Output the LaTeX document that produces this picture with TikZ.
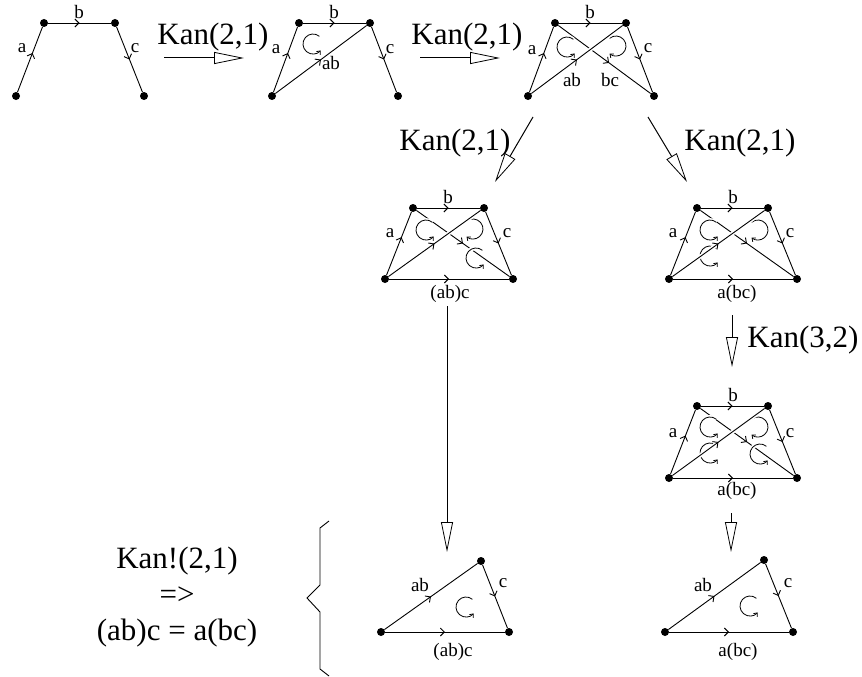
\documentclass[tikz,border=0pt]{standalone}
\usepackage{fontspec}
\setmainfont{Liberation Serif}
\usetikzlibrary{arrows.meta, decorations.markings}

\begin{document}
\begin{tikzpicture}[
    x=1pt, y=-1pt,
    >={Straight Barb[length=4pt,width=8pt]},
    dot/.style={
        circle,
        fill,
        inner sep=0pt,
        minimum size=8pt
    },
    lbl/.style={font=\fontsize{19}{19}\selectfont, inner sep=0pt},
    kan/.style={font=\fontsize{31}{31}\selectfont, inner sep=0pt},
    seg/.style={
        line width=0.9pt,
        postaction={decorate},
        decoration={markings, mark=at position #1 with {\arrow{>}}}
    },
    seg/.default=0.5,
    halo/.style={draw=white, line width=4pt, shorten <=6pt, shorten >=6pt},
    kanarrow/.style={
        line width=1pt,
        -{Triangle[open, length=30pt, width=12pt, line width=0.8pt]}
    },
    twocell/.style={
        line width=0.8pt,
        -{Straight Barb[length=3pt,width=5pt]},
        preaction={draw=white, line width=4pt, -}
    }
]

    \path[fill=white] (0,0) rectangle (862,677);

    % Vertices
    \foreach \n/\x/\y in {A1/16/96, B1/44/23, C1/115/23, D1/144/96,
            A2/272/96, B2/299/23, C2/370/23, D2/398/96,
            A3/528/96, B3/555/23, C3/626/23, D3/654/96,
            A4/385/279, B4/413/208, C4/484/208, D4/513/279,
            A5/669/279, B5/697/208, C5/768/208, D5/797/279,
            A6/669/478, B6/697/406, C6/768/406, D6/797/478,
            A7/381/632, C7/481/561, D7/509/632,
            A8/665/632, C8/764/560, D8/793/632}
        \node[dot] (\n) at (\x,\y) {};

    % Edges a, b, c
    \foreach \i in {1,...,6} {
        \draw[seg=0.6] (A\i) -- (B\i);
        \draw[seg] (B\i) -- (C\i);
        \draw[seg] (C\i) -- (D\i);
    }

    % Composites
    \foreach \i in {4,5,6}
        \draw[seg] (A\i) -- (D\i);
    \draw[seg=0.55] (B3) -- (D3);
    \foreach \i in {4,5,6}
        \draw[seg] (B\i) -- (D\i);

    % 2-cells
    \foreach \x/\y in {313/44, 567/47, 426/230, 476/258, 710/230, 710/256,
            710/427, 710/453, 760/454, 466/607, 750/606}
        \draw[twocell] (\x,\y) ++(-50:10) arc[start angle=-50, end angle=-320, radius=10];
    \foreach \x/\y in {616/46, 473/229, 758/230, 758/427}
        \draw[twocell] (\x,\y) ++(-130:10) arc[start angle=-130, end angle=130, radius=10];

    % ab on top
    \foreach \i in {2,...,6} {
        \draw[halo] (A\i) -- (C\i);
        \draw[seg] (A\i) -- (C\i);
    }

    % Triangles
    \foreach \i in {7,8} {
        \draw[seg] (A\i) -- (C\i);
        \draw[seg] (C\i) -- (D\i);
        \draw[seg] (A\i) -- (D\i);
    }

    % Labels
    \node[lbl] (la1) at (22,48) {a};
    \node[lbl] (lb1) at (79,12) {b};
    \node[lbl] (lc1) at (135,48) {c};
    \node[lbl] (la2) at (276,49) {a};
    \node[lbl] (lb2) at (334,12) {b};
    \node[lbl] (lc2) at (390,49) {c};
    \node[lbl] (lab2) at (331,63) {ab};
    \node[lbl] (la3) at (532,50) {a};
    \node[lbl] (lb3) at (590,12) {b};
    \node[lbl] (lc3) at (648,48) {c};
    \node[lbl] (lab3) at (572,80) {ab};
    \node[lbl] (lbc3) at (610,80) {bc};
    \node[lbl] (la4) at (390,233) {a};
    \node[lbl] (lb4) at (448,197) {b};
    \node[lbl] (lc4) at (507,233) {c};
    \node[lbl] (lad4) at (450,294) {(ab)c};
    \node[lbl] (la5) at (673,233) {a};
    \node[lbl] (lb5) at (733,197) {b};
    \node[lbl] (lc5) at (790,233) {c};
    \node[lbl] (lad5) at (737,294) {a(bc)};
    \node[lbl] (la6) at (673,433) {a};
    \node[lbl] (lb6) at (733,395) {b};
    \node[lbl] (lc6) at (790,433) {c};
    \node[lbl] (lad6) at (737,491) {a(bc)};
    \node[lbl] (lab7) at (420,585) {ab};
    \node[lbl] (lc7) at (503,583) {c};
    \node[lbl] (lad7) at (453,652) {(ab)c};
    \node[lbl] (lab8) at (703,585) {ab};
    \node[lbl] (lc8) at (788,583) {c};
    \node[lbl] (lad8) at (738,652) {a(bc)};

    % Kan arrows
    \coordinate (h1s) at (164,58);
    \coordinate (h1e) at (244,58);
    \coordinate (h2s) at (420,58);
    \coordinate (h2e) at (500,58);
    \coordinate (d1s) at (533,117);
    \coordinate (d1e) at (495,182);
    \coordinate (d2s) at (648,117);
    \coordinate (d2e) at (687,182);
    \coordinate (v1s) at (447,306);
    \coordinate (v1e) at (447,552);
    \coordinate (v2s) at (732,315);
    \coordinate (v2e) at (732,367);
    \coordinate (v3s) at (731,513);
    \coordinate (v3e) at (731,552);

    \foreach \a in {h1,h2,d1,d2,v1,v2,v3}
        \draw[kanarrow] (\a s) -- (\a e);

    \node[kan] (kan1) at (213,37) {Kan(2,1)};
    \node[kan] (kan2) at (467,37) {Kan(2,1)};
    \node[kan] (kan3) at (455,143) {Kan(2,1)};
    \node[kan] (kan4) at (740,143) {Kan(2,1)};
    \node[kan] (kan5) at (803,340) {Kan(3,2)};

    % Conclusion
    \node[align=center, inner sep=0pt, font=\fontsize{31}{36}\selectfont] (res) at (177,597)
        {Kan!(2,1)\\=>\\(ab)c = a(bc)};
    \draw[line width=0.9pt] (329,521) -- (320,528) -- (320,585) -- (307,598)
        -- (320,612) -- (320,669) -- (329,676);

\end{tikzpicture}
\end{document}
